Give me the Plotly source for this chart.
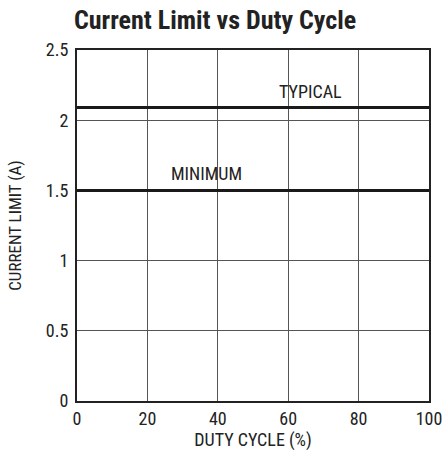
import plotly.graph_objects as go

duty_cycle = [0, 100]
typical_limit = [2.09, 2.09]
minimum_limit = [1.5, 1.5]
x_ticks = [0, 20, 40, 60, 80, 100]
y_ticks = [0, 0.5, 1, 1.5, 2, 2.5]
y_tick_labels = ["0", "0.5", "1", "1.5", "2", "2.5"]

FONT = "Liberation Sans Narrow, Arial Narrow, Roboto Condensed, Liberation Sans, sans-serif"

fig = go.Figure()
fig.add_trace(go.Scatter(x=duty_cycle, y=typical_limit, mode="lines",
                         line=dict(color="#1a1a1a", width=3), name="TYPICAL", showlegend=False))
fig.add_trace(go.Scatter(x=duty_cycle, y=minimum_limit, mode="lines",
                         line=dict(color="#1a1a1a", width=3), name="MINIMUM", showlegend=False))

fig.add_annotation(x=66.2, y=typical_limit[0], text="TYPICAL", showarrow=False,
                   yanchor="bottom", yshift=4, font=dict(family=FONT, size=18, color="#222"))
fig.add_annotation(x=36.9, y=minimum_limit[0], text="MINIMUM", showarrow=False,
                   yanchor="bottom", yshift=4, font=dict(family=FONT, size=18, color="#222"))

fig.update_layout(
    width=445, height=460,
    margin=dict(l=77, r=16, t=50, b=59, autoexpand=False),
    paper_bgcolor="white", plot_bgcolor="white",
    font=dict(family=FONT, size=18, color="#222"),
    title=dict(text="<b>Current Limit vs Duty Cycle</b>", x=74/445, xanchor="left",
               y=1-20/460, yanchor="middle",
               font=dict(family=FONT, size=26, color="#222")),
    xaxis=dict(range=[0, 100], tickvals=x_ticks, showgrid=True, gridcolor="#555", gridwidth=1,
               showline=True, linecolor="#222", linewidth=2, mirror=True, ticks="",
               zeroline=False, tickfont=dict(size=18), automargin=False,
               title=dict(text="DUTY CYCLE (%)", font=dict(size=18), standoff=6)),
    yaxis=dict(range=[0, 2.5], tickvals=y_ticks, ticktext=y_tick_labels, showgrid=True,
               gridcolor="#555", gridwidth=1, showline=True, linecolor="#222", linewidth=2,
               mirror=True, ticks="", zeroline=False, tickfont=dict(size=18), automargin=False,
               ticklabelstandoff=3,
               title=dict(text="CURRENT LIMIT (A)", font=dict(size=17), standoff=20)),
)

fig.write_html("out.html", config={"displayModeBar": False},
               post_script="document.body.style.margin='0';")
